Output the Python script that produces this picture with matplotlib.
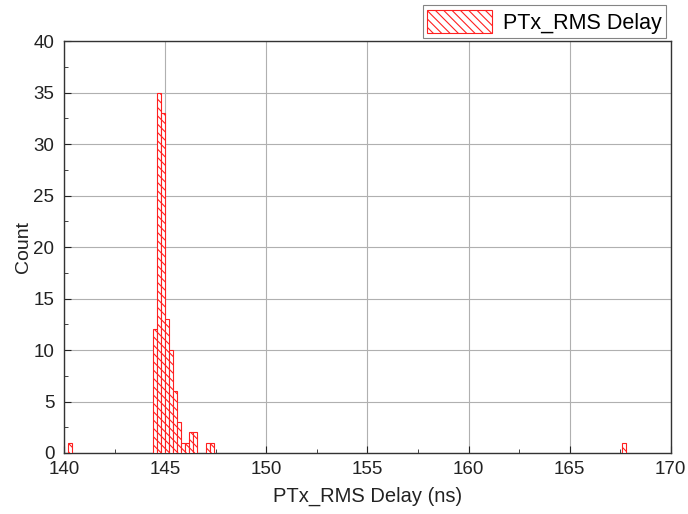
import matplotlib
matplotlib.use("Agg")
import matplotlib.pyplot as plt
from matplotlib.ticker import MultipleLocator

plt.rcParams['font.family'] = ['Liberation Sans', 'DejaVu Sans']
plt.rcParams['hatch.linewidth'] = 0.8

bin_width = 0.2
bin_left = [140.2, 144.4, 144.6, 144.8, 145.0, 145.2, 145.4, 145.6, 145.8,
            146.0, 146.2, 146.4, 147.0, 147.2, 167.6]
counts = [1, 12, 35, 33, 13, 10, 6, 3, 1, 1, 2, 2, 1, 1, 1]
series_name = "PTx_RMS Delay"
x_label = "PTx_RMS Delay (ns)"
y_label = "Count"

fig = plt.figure(figsize=(6.88, 5.14), dpi=100)
ax = fig.add_axes([0.093, 0.1187, 0.882, 0.8013])

ax.bar(bin_left, counts, width=bin_width, align='edge', facecolor='white',
       edgecolor='#ff2020', hatch='\\\\\\\\', linewidth=0.8, label=series_name,
       zorder=3)

ax.set_xlim(140, 170)
ax.set_ylim(0, 40)
ax.xaxis.set_major_locator(MultipleLocator(5))
ax.xaxis.set_minor_locator(MultipleLocator(2.5))
ax.yaxis.set_major_locator(MultipleLocator(5))
ax.yaxis.set_minor_locator(MultipleLocator(2.5))
ax.grid(True, which='major', color='#b0b0b0', linewidth=0.8, zorder=0)
ax.tick_params(which='both', direction='in', top=False, right=False,
               labelsize=13.5, colors='#222222')
ax.tick_params(which='major', length=5)
ax.tick_params(which='minor', length=3)
ax.tick_params(axis='y', pad=7)
ax.tick_params(axis='x', pad=6)
for s in ax.spines.values():
    s.set_color('#333333')
    s.set_linewidth(1.0)

ax.set_xlabel(x_label, fontsize=14.5, color='#222222', labelpad=6)
ax.set_ylabel(y_label, fontsize=14, color='#222222', labelpad=1)

leg = fig.legend(loc='upper right', bbox_to_anchor=(0.974, 0.998),
                 fontsize=15.5, frameon=True, fancybox=False, edgecolor='#666666',
                 handlelength=3.0, handleheight=1.3, borderpad=0.2,
                 handletextpad=0.5, borderaxespad=0.2)
leg.get_frame().set_linewidth(0.8)

fig.savefig("out.png", dpi=100)
